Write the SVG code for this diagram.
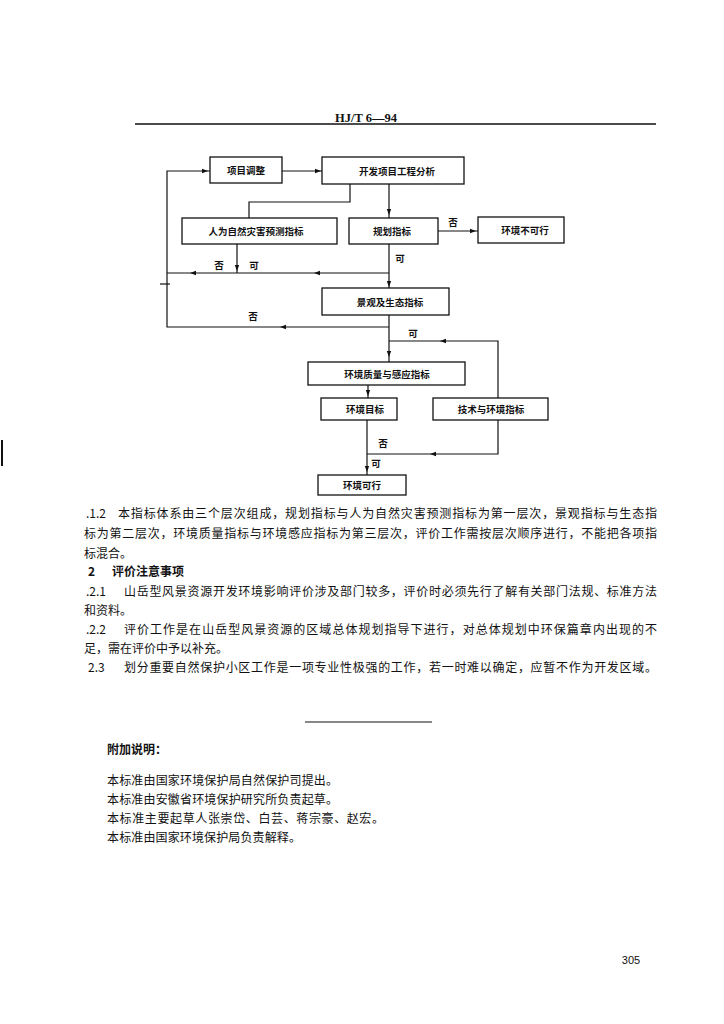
<svg xmlns="http://www.w3.org/2000/svg" width="724" height="1024" viewBox="0 0 724 1024">
<style>
.box{fill:#fff;stroke:#111;stroke-width:1.3}
.ln{fill:none;stroke:#111;stroke-width:1.2}
.bt{font-family:"Noto Sans CJK SC","Liberation Sans",sans-serif;font-size:9.5px;font-weight:bold;fill:#111;text-anchor:middle;dominant-baseline:central}
.lb{font-family:"Noto Sans CJK SC","Liberation Sans",sans-serif;font-size:9.5px;font-weight:bold;fill:#111;text-anchor:middle;dominant-baseline:central}
.p{font-family:"Noto Sans CJK SC","Liberation Sans",sans-serif;font-size:12px;fill:#111}
.pb{font-family:"Noto Sans CJK SC","Liberation Sans",sans-serif;font-size:12px;font-weight:bold;fill:#111}
</style>
<defs>
<path id="ar" d="M3,0 L-3,-2.2 L-3,2.2 Z" fill="#111"/>
</defs>
<rect width="724" height="1024" fill="#fff"/>
<text x="366" y="122" text-anchor="middle" font-family="Liberation Serif,serif" font-size="12.5" font-weight="bold" fill="#111">HJ/T 6—94</text>
<line x1="135" y1="124" x2="656" y2="124" stroke="#111" stroke-width="1.5"/>

<g id="connectors">
<path class="ln" d="M282,171 H322"/>
<path class="ln" d="M210,171 H167 V327 H389"/>
<path class="ln" d="M389,184 V218"/>
<path class="ln" d="M350,184 V202 H249 V218"/>
<path class="ln" d="M438,231 H478"/>
<path class="ln" d="M237,244 V273"/>
<path class="ln" d="M167,273 H389"/>
<path class="ln" d="M389,244 V288"/>
<path class="ln" d="M389,315 V362"/>
<path class="ln" d="M389,341 H498 V398"/>
<path class="ln" d="M368,385 V398"/>
<path class="ln" d="M367,420 V475"/>
<path class="ln" d="M498,420 V454 H367"/>
<path class="ln" d="M160,284 H170"/>
<use href="#ar" transform="translate(318,171)"/>
<use href="#ar" transform="translate(205,171)"/>
<use href="#ar" transform="translate(389,212) rotate(90)"/>
<use href="#ar" transform="translate(473,231)"/>
<use href="#ar" transform="translate(237,268) rotate(90)"/>
<use href="#ar" transform="translate(193,273) rotate(180)"/>
<use href="#ar" transform="translate(317,273) rotate(180)"/>
<use href="#ar" transform="translate(389,284) rotate(90)"/>
<use href="#ar" transform="translate(283,327) rotate(180)"/>
<use href="#ar" transform="translate(389,354) rotate(90)"/>
<use href="#ar" transform="translate(443,341) rotate(180)"/>
<use href="#ar" transform="translate(368,393) rotate(90)"/>
<use href="#ar" transform="translate(433,454) rotate(180)"/>
<use href="#ar" transform="translate(367,469) rotate(90)"/>
<text class="lb" x="453" y="222">否</text>
<text class="lb" x="219" y="265">否</text>
<text class="lb" x="254" y="265">可</text>
<text class="lb" x="400" y="258">可</text>
<text class="lb" x="253" y="316">否</text>
<text class="lb" x="413" y="333">可</text>
<text class="lb" x="383" y="443">否</text>
<text class="lb" x="376" y="463">可</text>
</g>

<g id="n1"><rect class="box" x="210" y="157" width="72" height="26"/><text class="bt" x="246" y="170">项目调整</text></g>
<g id="n2"><rect class="box" x="322" y="157" width="142" height="27"/><text class="bt" x="397" y="171">开发项目工程分析</text></g>
<g id="n3"><rect class="box" x="182" y="218" width="155" height="26"/><text class="bt" x="256" y="231">人为自然灾害预测指标</text></g>
<g id="n4"><rect class="box" x="349" y="218" width="89" height="26"/><text class="bt" x="392" y="231">规划指标</text></g>
<g id="n5"><rect class="box" x="478" y="217" width="86" height="26"/><text class="bt" x="525" y="230">环境不可行</text></g>
<g id="n6"><rect class="box" x="322" y="288" width="127" height="27"/><text class="bt" x="390" y="302">景观及生态指标</text></g>
<g id="n7"><rect class="box" x="308" y="362" width="157" height="23"/><text class="bt" x="387" y="374">环境质量与感应指标</text></g>
<g id="n8"><rect class="box" x="321" y="398" width="76" height="22"/><text class="bt" x="365" y="409">环境目标</text></g>
<g id="n9"><rect class="box" x="433" y="398" width="115" height="22"/><text class="bt" x="491" y="409">技术与环境指标</text></g>
<g id="n10"><rect class="box" x="318" y="475" width="88" height="20"/><text class="bt" x="362" y="485">环境可行</text></g>

<g id="body">
<text class="p" x="86" y="518">.1.2</text>
<text class="p" x="118" y="518" textLength="539" lengthAdjust="spacing">本指标体系由三个层次组成，规划指标与人为自然灾害预测指标为第一层次，景观指标与生态指</text>
<text class="p" x="84" y="538" textLength="573" lengthAdjust="spacing">标为第二层次，环境质量指标与环境感应指标为第三层次，评价工作需按层次顺序进行，不能把各项指</text>
<text class="p" x="84" y="558">标混合。</text>
<text class="pb" x="88" y="576">2</text>
<text class="pb" x="112" y="576">评价注意事项</text>
<text class="p" x="86" y="596">.2.1</text>
<text class="p" x="124" y="596" textLength="533" lengthAdjust="spacing">山岳型风景资源开发环境影响评价涉及部门较多，评价时必须先行了解有关部门法规、标准方法</text>
<text class="p" x="84" y="615">和资料。</text>
<text class="p" x="86" y="634">.2.2</text>
<text class="p" x="124" y="634" textLength="533" lengthAdjust="spacing">评价工作是在山岳型风景资源的区域总体规划指导下进行，对总体规划中环保篇章内出现的不</text>
<text class="p" x="84" y="653">足，需在评价中予以补充。</text>
<text class="p" x="88" y="672">2.3</text>
<text class="p" x="124" y="672" textLength="533" lengthAdjust="spacing">划分重要自然保护小区工作是一项专业性极强的工作，若一时难以确定，应暂不作为开发区域。</text>
<line x1="305" y1="722" x2="432" y2="722" stroke="#111" stroke-width="1.2"/>
<text class="pb" x="107" y="754" font-size="11.5">附加说明：</text>
<text class="p" x="107" y="785" textLength="231" lengthAdjust="spacing">本标准由国家环境保护局自然保护司提出。</text>
<text class="p" x="107" y="804" textLength="231" lengthAdjust="spacing">本标准由安徽省环境保护研究所负责起草。</text>
<text class="p" x="107" y="823" textLength="277" lengthAdjust="spacing">本标准主要起草人张崇岱、白芸、蒋宗豪、赵宏。</text>
<text class="p" x="107" y="842" textLength="194" lengthAdjust="spacing">本标准由国家环境保护局负责解释。</text>
<text x="631" y="964" text-anchor="middle" font-family="Liberation Sans,sans-serif" font-size="11" fill="#111">305</text>
<line x1="2" y1="440" x2="2" y2="466" stroke="#111" stroke-width="2"/>
</g>
</svg>
